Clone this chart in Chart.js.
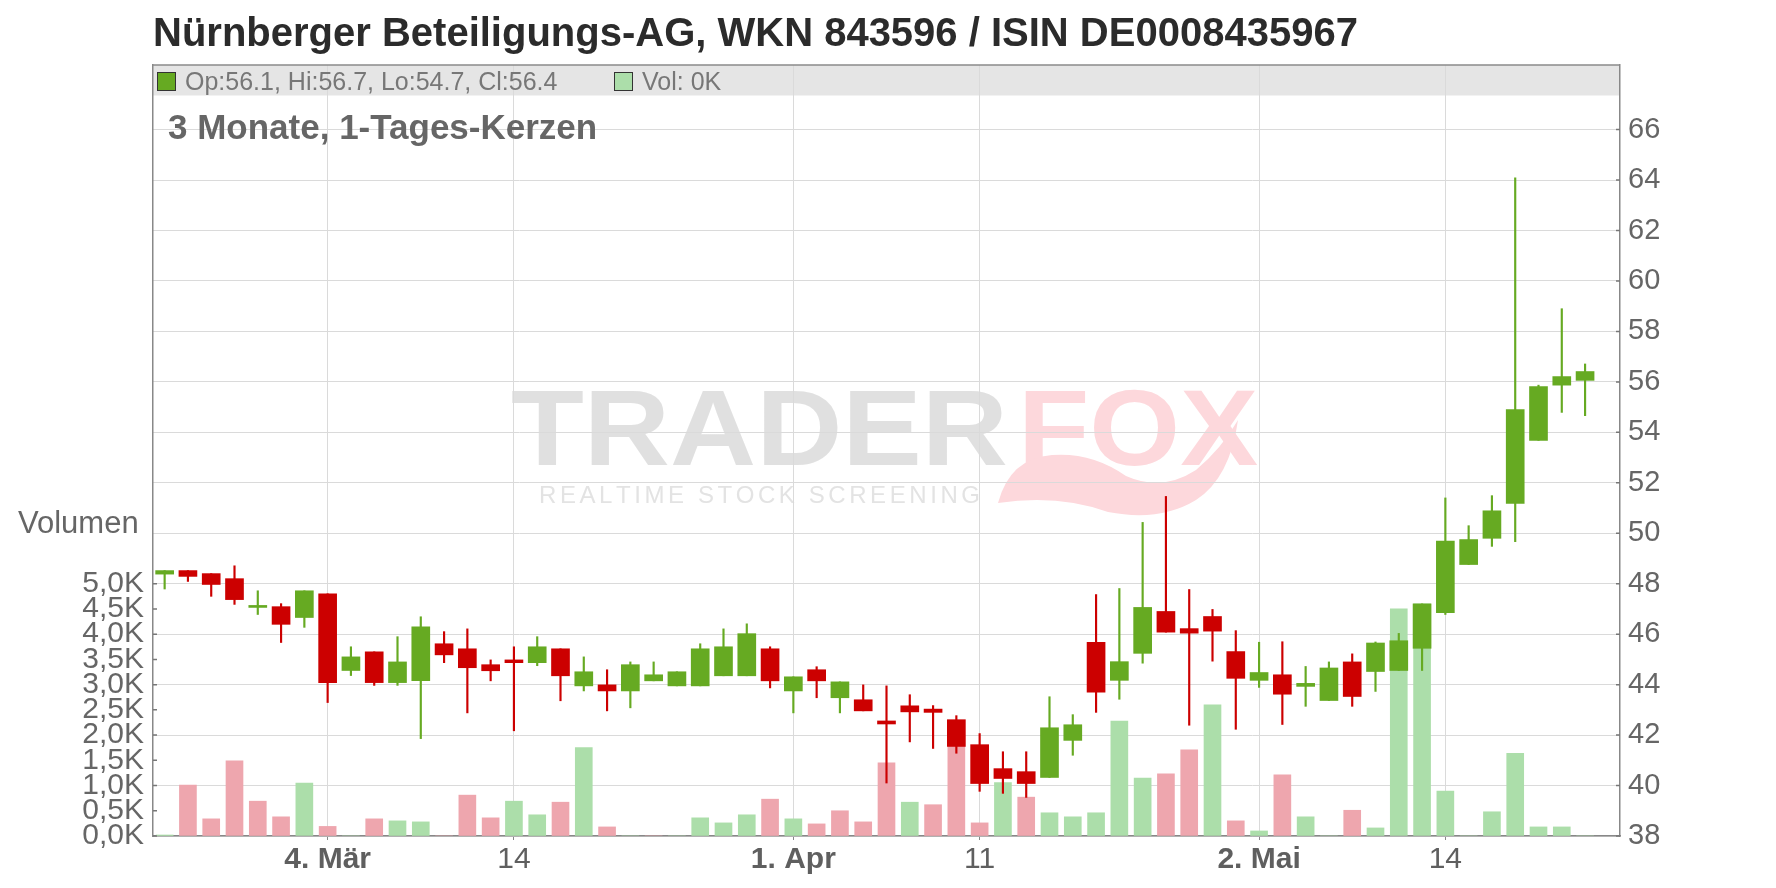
<!DOCTYPE html>
<html lang="de">
<head>
<meta charset="utf-8">
<title>Nürnberger Beteiligungs-AG - 3 Monate</title>
<script src="https://cdn.jsdelivr.net/npm/chart.js@4.4.0/dist/chart.umd.min.js"></script>
<style>
  html, body { margin: 0; padding: 0; background: #fff; }
  #wrap { width: 1776px; height: 888px; }
</style>
</head>
<body>
<div id="wrap"><canvas id="chart" width="1776" height="888"></canvas></div>
<script>
// trading days (last slot is empty)
const days = [
  '2019-02-21','2019-02-22','2019-02-25','2019-02-26','2019-02-27','2019-02-28','2019-03-01',
  '2019-03-04','2019-03-05','2019-03-06','2019-03-07','2019-03-08','2019-03-11','2019-03-12',
  '2019-03-13','2019-03-14','2019-03-15','2019-03-18','2019-03-19','2019-03-20','2019-03-21',
  '2019-03-22','2019-03-25','2019-03-26','2019-03-27','2019-03-28','2019-03-29','2019-04-01',
  '2019-04-02','2019-04-03','2019-04-04','2019-04-05','2019-04-08','2019-04-09','2019-04-10',
  '2019-04-11','2019-04-12','2019-04-15','2019-04-16','2019-04-17','2019-04-18','2019-04-23',
  '2019-04-24','2019-04-25','2019-04-26','2019-04-29','2019-04-30','2019-05-02','2019-05-03',
  '2019-05-06','2019-05-07','2019-05-08','2019-05-09','2019-05-10','2019-05-13','2019-05-14',
  '2019-05-15','2019-05-16','2019-05-17','2019-05-20','2019-05-21','2019-05-22','2019-05-23'
];

const opens = [
  48.38,48.52,48.40,48.20,47.06,47.09,46.66,47.60,44.56,45.30,44.08,44.16,45.62,45.42,44.79,44.98,
  44.87,45.42,43.95,43.99,43.75,44.15,43.95,43.95,44.35,44.35,45.42,43.75,44.59,43.48,43.40,42.56,
  43.16,43.03,42.61,41.62,40.67,40.55,40.32,41.79,45.68,44.17,45.24,46.90,46.22,46.70,45.31,44.17,
  44.39,43.93,43.37,44.90,44.52,44.56,45.44,46.85,48.76,49.80,51.18,53.68,55.87,56.06
];
const highs = [
  48.52,48.52,48.40,48.71,47.72,47.21,47.72,47.60,45.50,45.30,45.90,46.69,46.10,46.21,44.98,45.50,
  45.90,45.42,45.10,44.59,44.90,44.90,44.51,45.62,46.21,46.41,45.50,44.31,44.71,44.11,43.99,43.95,
  43.60,43.17,42.77,42.06,41.34,41.34,43.52,42.81,47.57,47.81,50.43,51.46,47.77,46.98,46.14,45.68,
  45.70,44.72,44.90,45.22,45.69,46.03,47.20,51.40,50.30,51.49,64.09,55.87,58.90,56.71
];
const lows = [
  47.79,48.09,47.50,47.18,46.78,45.67,46.27,43.29,44.36,43.97,43.97,41.86,44.87,42.88,44.15,42.17,
  44.75,43.36,43.75,42.96,43.08,44.15,43.95,43.95,44.35,44.35,43.87,42.88,43.48,42.88,42.96,40.10,
  41.73,41.47,41.28,39.77,39.69,39.53,40.32,41.20,42.90,43.42,44.85,46.08,42.39,44.93,42.23,43.89,
  42.42,43.14,43.37,43.14,43.73,44.56,44.56,46.78,48.76,49.48,49.67,53.68,54.79,54.66
];
const closes = [
  48.52,48.29,47.97,47.37,47.08,46.39,47.72,44.08,45.10,44.08,44.90,46.29,45.18,44.67,44.55,44.87,
  45.50,44.35,44.51,43.75,44.79,44.39,44.51,45.42,45.50,46.02,44.15,44.31,44.15,44.11,42.96,42.44,
  42.92,42.90,41.55,40.08,40.28,40.08,42.29,42.41,43.70,44.91,47.06,46.08,46.04,46.12,44.25,44.48,
  43.62,44.05,44.66,43.53,45.65,45.74,47.20,49.69,49.75,50.89,54.90,55.81,56.21,56.41
];
// volume in thousand
const volumes = [
  0.02,1.01,0.34,1.49,0.69,0.38,1.05,0.19,0,0.34,0.30,0.28,0,0.81,0.36,0.69,
  0.42,0.67,1.75,0.18,0,0,0,0.36,0.26,0.42,0.73,0.34,0.24,0.50,0.28,1.45,
  0.67,0.62,2.00,0.26,1.06,0.77,0.46,0.38,0.46,2.28,1.15,1.23,1.71,2.60,0.30,0.10,
  1.21,0.38,0,0.51,0.16,4.50,4.60,0.89,0,0.48,1.64,0.18,0.18,0
];

const xTickIdx = [7, 15, 27, 35, 47, 55];
const xTickText = ['4. Mär', '14', '1. Apr', '11', '2. Mai', '14'];
const xTickBold = [true, false, true, false, true, false];
const priceTicks = [38,40,42,44,46,48,50,52,54,56,58,60,62,64,66];
const volTicks = [0,0.5,1,1.5,2,2.5,3,3.5,4,4.5,5];

const FONT = "'Liberation Sans', Arial, sans-serif";
const UP = '#66aa22', DOWN = '#cc0000';
const VOL_UP = '#acdeaa', VOL_DOWN = '#eea6ae';

const bodyColors = opens.map((o, i) => closes[i] >= o ? UP : DOWN);
const volColors = closes.map((c, i) => (i === 0 || c >= closes[i - 1]) ? VOL_UP : VOL_DOWN);

function fitText(ctx, txt, x, y, w, font, fill) {
  ctx.font = font;
  const m = ctx.measureText(txt).width;
  ctx.save();
  ctx.translate(x, y);
  ctx.scale(w / m, 1);
  ctx.fillStyle = fill;
  ctx.fillText(txt, 0, 0);
  ctx.restore();
}

function drawWatermark(ctx) {
  ctx.textBaseline = 'alphabetic';
  const g = ctx.createLinearGradient(0, 388, 0, 465);
  g.addColorStop(0, '#e0e0e0');
  g.addColorStop(1, '#f1f1f1');
  fitText(ctx, 'TRADER', 511, 465, 497, 'bold 108px ' + FONT, g);
  fitText(ctx, 'FOX', 1018, 465, 240, 'bold 108px ' + FONT, '#fdd8dc');

  // fox tail
  ctx.fillStyle = '#fdd8dc';
  ctx.beginPath();
  ctx.moveTo(998, 503);
  ctx.quadraticCurveTo(1010, 458, 1052, 455);
  ctx.quadraticCurveTo(1092, 452, 1126, 476);
  ctx.quadraticCurveTo(1162, 492, 1196, 470);
  ctx.quadraticCurveTo(1222, 448, 1238, 420);
  ctx.quadraticCurveTo(1230, 478, 1196, 500);
  ctx.quadraticCurveTo(1160, 522, 1108, 512);
  ctx.quadraticCurveTo(1058, 494, 998, 503);
  ctx.closePath();
  ctx.fill();

  // tagline, spaced letters
  const tag = 'REALTIME STOCK SCREENING';
  ctx.font = '24px ' + FONT;
  ctx.fillStyle = '#e3e3e3';
  const chars = tag.split('');
  const natural = chars.reduce((s, c) => s + ctx.measureText(c).width, 0);
  const extra = (441 - natural) / (chars.length - 1);
  let x = 539;
  chars.forEach(c => {
    ctx.fillText(c, x, 503);
    x += ctx.measureText(c).width + extra;
  });
}

const decor = {
  id: 'decor',
  beforeDraw(chart) {
    const { ctx, chartArea: a } = chart;
    ctx.save();
    ctx.fillStyle = '#fff';
    ctx.fillRect(0, 0, chart.width, chart.height);
    ctx.fillStyle = '#e5e5e5';
    ctx.fillRect(a.left, a.top, a.right - a.left, 30.5);
    drawWatermark(ctx);
    ctx.restore();
  },
  afterDraw(chart) {
    const { ctx, chartArea: a } = chart;
    const yv = chart.scales.yv, yp = chart.scales.y;
    ctx.save();

    // inward tick marks + top border
    ctx.strokeStyle = '#777';
    ctx.lineWidth = 1.5;
    ctx.beginPath();
    yv.ticks.forEach(t => {
      const py = yv.getPixelForValue(t.value);
      ctx.moveTo(a.left, py); ctx.lineTo(a.left + 4, py);
    });
    yp.ticks.forEach(t => {
      const py = yp.getPixelForValue(t.value);
      ctx.moveTo(a.right - 4, py); ctx.lineTo(a.right, py);
    });
    ctx.stroke();
    ctx.strokeStyle = '#8a8a8a';
    ctx.beginPath();
    ctx.moveTo(a.left, a.top); ctx.lineTo(a.right, a.top);
    ctx.stroke();

    ctx.textBaseline = 'alphabetic';
    ctx.textAlign = 'left';

    // title
    ctx.fillStyle = '#2b2b2b';
    ctx.font = 'bold 40px ' + FONT;
    ctx.fillText('Nürnberger Beteiligungs-AG, WKN 843596 / ISIN DE0008435967', 153, 46);

    // header legend
    const n = opens.length - 1;
    const f1 = v => v.toFixed(1);
    ctx.lineWidth = 1;
    ctx.strokeStyle = '#333';
    ctx.fillStyle = UP;
    ctx.fillRect(157.5, 72.5, 18, 18);
    ctx.strokeRect(157.5, 72.5, 18, 18);
    ctx.fillStyle = VOL_UP;
    ctx.fillRect(614.5, 72.5, 18, 18);
    ctx.strokeRect(614.5, 72.5, 18, 18);
    ctx.fillStyle = '#777';
    ctx.font = '25px ' + FONT;
    ctx.fillText(`Op:${f1(opens[n])}, Hi:${f1(highs[n])}, Lo:${f1(lows[n])}, Cl:${f1(closes[n])}`, 185, 90);
    ctx.fillText(`Vol: ${Math.round(volumes[n])}K`, 642, 90);

    // subtitle
    ctx.fillStyle = '#666';
    ctx.font = 'bold 35px ' + FONT;
    ctx.fillText('3 Monate, 1-Tages-Kerzen', 168, 139);

    // volume axis title
    ctx.font = '31px ' + FONT;
    ctx.fillText('Volumen', 18, 533);
    ctx.restore();
  }
};

new Chart(document.getElementById('chart'), {
  type: 'bar',
  data: {
    labels: days,
    datasets: [
      {
        label: 'Kerze',
        data: opens.map((o, i) => [o, closes[i]]),
        backgroundColor: bodyColors,
        yAxisID: 'y',
        barThickness: 18,
        minBarLength: 2,
        grouped: false,
        order: 1
      },
      {
        label: 'Docht',
        data: lows.map((l, i) => [l, highs[i]]),
        backgroundColor: bodyColors,
        yAxisID: 'y',
        barThickness: 1.5,
        grouped: false,
        order: 2
      },
      {
        label: 'Volumen',
        data: volumes,
        backgroundColor: volColors,
        yAxisID: 'yv',
        barThickness: 17,
        grouped: false,
        order: 3
      }
    ]
  },
  options: {
    responsive: false,
    animation: false,
    layout: { padding: { top: 65, left: 0, right: 0, bottom: 0 } },
    plugins: { legend: { display: false }, tooltip: { enabled: false }, title: { display: false } },
    scales: {
      x: {
        type: 'category',
        offset: true,
        afterBuildTicks: s => { s.ticks = xTickIdx.map(i => ({ value: i })); },
        afterFit: s => { s.height = 52; },
        grid: { offset: false, color: '#dadada', lineWidth: 1, tickLength: 4, tickColor: '#888' },
        border: { color: '#888', width: 1.5 },
        ticks: {
          autoSkip: false,
          maxRotation: 0,
          padding: 2,
          color: '#5f5f5f',
          font: c => ({ family: FONT, size: 30, weight: xTickBold[xTickIdx.indexOf(c.tick && c.tick.value)] ? 'bold' : 'normal' }),
          callback: v => xTickText[xTickIdx.indexOf(v)]
        }
      },
      y: {
        position: 'right',
        min: 38,
        max: 68.56,
        afterBuildTicks: s => { s.ticks = priceTicks.map(v => ({ value: v })); },
        afterFit: s => { s.width = 156; },
        grid: { color: '#dadada', lineWidth: 1, drawTicks: false },
        border: { color: '#888', width: 1.5 },
        ticks: { padding: 8, color: '#666', font: { family: FONT, size: 29 } }
      },
      yv: {
        position: 'left',
        min: 0,
        max: 15.28,
        afterBuildTicks: s => { s.ticks = volTicks.map(v => ({ value: v })); },
        afterFit: s => { s.width = 153; },
        grid: { drawOnChartArea: false, drawTicks: false },
        border: { color: '#888', width: 1.5 },
        ticks: {
          autoSkip: false,
          padding: 9,
          color: '#666',
          font: { family: FONT, size: 30 },
          callback: v => v.toFixed(1).replace('.', ',') + 'K'
        }
      }
    }
  },
  plugins: [decor]
});
</script>
</body>
</html>
